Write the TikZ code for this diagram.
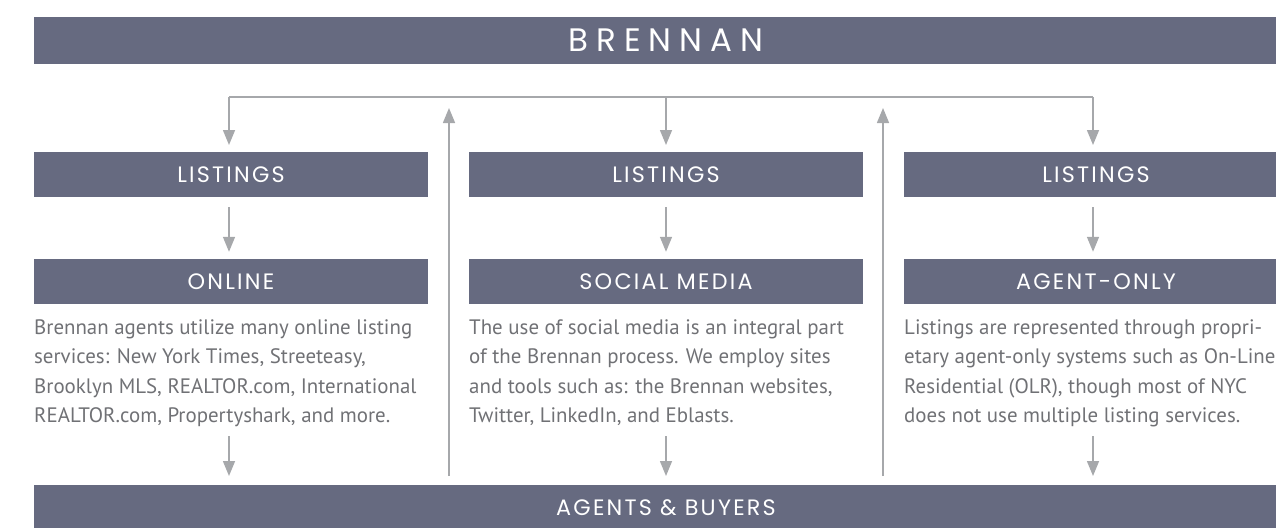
\documentclass[tikz,border=0pt]{standalone}
\usepackage{fontspec}
\setmainfont{PT Sans}
\newfontfamily\headfont[LetterSpace=10]{Poppins}
\newfontfamily\titlefont[LetterSpace=25]{Poppins}
\usetikzlibrary{arrows.meta}
\definecolor{barfill}{RGB}{102,106,128}
\definecolor{linegray}{RGB}{166,168,171}
\definecolor{textgray}{RGB}{112,113,117}
\begin{document}
\begin{tikzpicture}[x=1pt,y=-1pt,
  bar/.style={fill=barfill,draw=none,inner sep=0pt,minimum height=45pt,text=white,font=\headfont\fontsize{22.3}{24}\selectfont},
  desc/.style={anchor=north west,inner sep=0pt,align=left,text=textgray,font=\fontsize{20.9}{29.3}\selectfont},
  conn/.style={draw=linegray,line width=1.5pt,-{Triangle[width=12pt,length=15pt]}},
  plain/.style={draw=linegray,line width=1.5pt}]
\useasboundingbox (0,0) rectangle (1276,527);
% top bar
\node[bar,minimum width=1264pt,minimum height=47pt,font=\titlefont\fontsize{32.5}{34}\selectfont] (top) at (666,40.5) {BRENNAN};
% listings
\node[bar,minimum width=394pt] (L1) at (231,174.5) {LISTINGS};
\node[bar,minimum width=394pt] (L2) at (666,174.5) {LISTINGS};
\node[bar,minimum width=384pt] (L3) at (1096,174.5) {LISTINGS};
% categories
\node[bar,minimum width=394pt] (C1) at (231,281.5) {ONLINE};
\node[bar,minimum width=394pt] (C2) at (666,281.5) {SOCIAL MEDIA};
\node[bar,minimum width=384pt] (C3) at (1096,281.5) {AGENT-ONLY};
% bottom bar
\node[bar,minimum width=1264pt] (bot) at (666,507.5) {AGENTS \& BUYERS};
% descriptions
\node[desc] (D1) at (34,319.5) {Brennan agents utilize many online listing\\services: New York Times, Streeteasy,\\Brooklyn MLS, REALTOR.com, International\\REALTOR.com, Propertyshark, and more.};
\node[desc] (D2) at (469,319.5) {The use of social media is an integral part\\of the Brennan process. We employ sites\\and tools such as: the Brennan websites,\\Twitter, LinkedIn, and Eblasts.};
\node[desc] (D3) at (904,319.5) {Listings are represented through propri-\\etary agent-only systems such as On-Line\\Residential (OLR), though most of NYC\\does not use multiple listing services.};
% connector coordinates
\coordinate (t1) at (229,145);
\coordinate (t2) at (666,145);
\coordinate (t3) at (1093,145);
\coordinate (h1) at (229,97);
\coordinate (h2) at (666,97);
\coordinate (h3) at (1093,97);
\coordinate (u1a) at (449,476);
\coordinate (u1b) at (449,108);
\coordinate (u2a) at (883,476);
\coordinate (u2b) at (883,108);
\coordinate (b1a) at (229,436);
\coordinate (b1b) at (229,476);
\coordinate (b2a) at (666,436);
\coordinate (b2b) at (666,476);
\coordinate (b3a) at (1093,436);
\coordinate (b3b) at (1093,476);
% top distribution line
\draw[plain] (h1) -- (h3);
\draw[conn] (h1) -- (t1);
\draw[conn] (h2) -- (t2);
\draw[conn] (h3) -- (t3);
% feedback arrows
\draw[conn] (u1a) -- (u1b);
\draw[conn] (u2a) -- (u2b);
% listings to categories
\draw[conn,shorten <=10pt,shorten >=7pt] (L1.south -| t1) -- (C1.north -| t1);
\draw[conn,shorten <=10pt,shorten >=7pt] (L2.south -| t2) -- (C2.north -| t2);
\draw[conn,shorten <=10pt,shorten >=7pt] (L3.south -| t3) -- (C3.north -| t3);
% descriptions to bottom
\draw[conn] (b1a) -- (b1b);
\draw[conn] (b2a) -- (b2b);
\draw[conn] (b3a) -- (b3b);
\end{tikzpicture}
\end{document}
